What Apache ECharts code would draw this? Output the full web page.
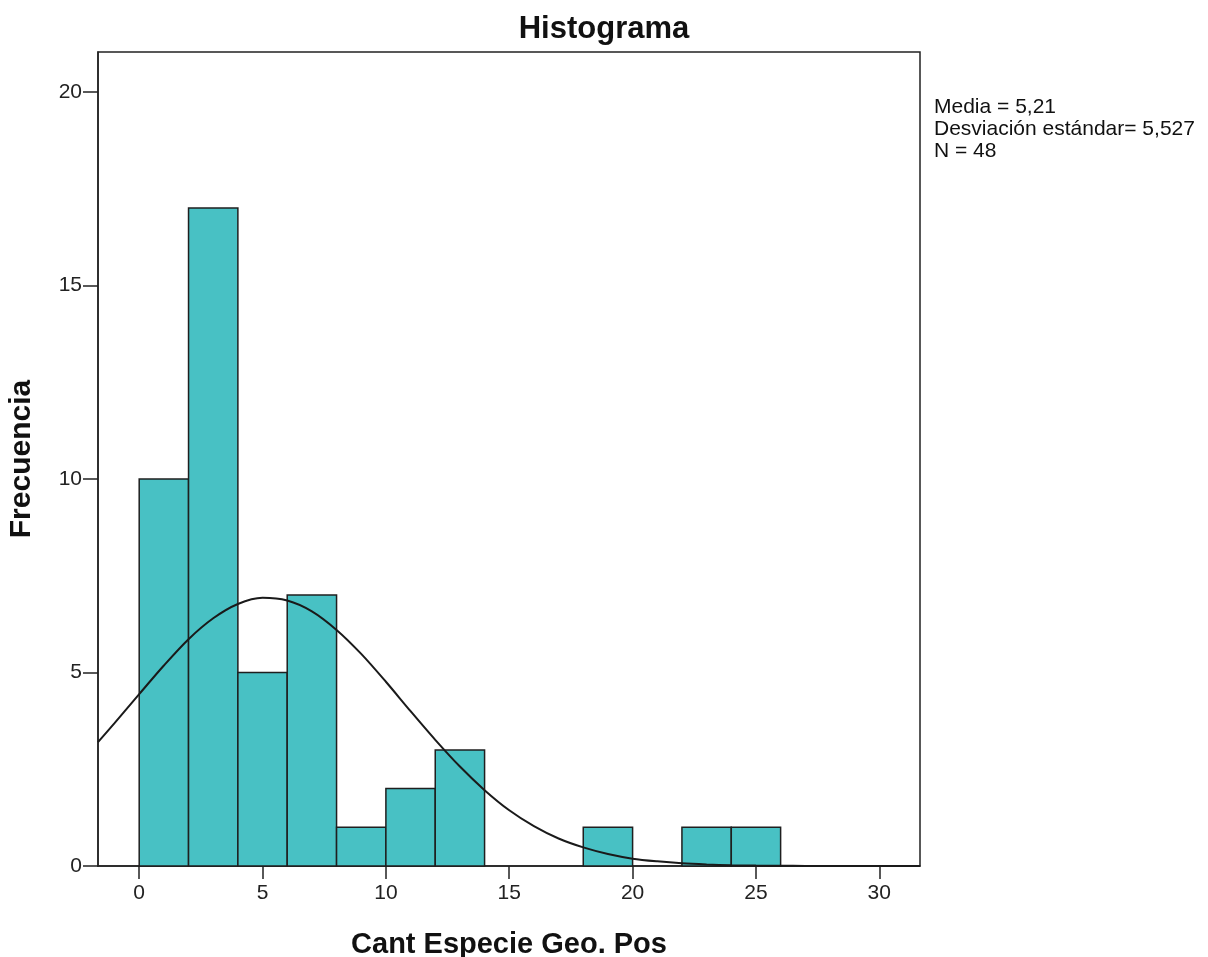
<!DOCTYPE html>
<html>
<head>
    <meta charset="utf-8" />
    <title>Histograma</title>
    <script src="https://cdn.jsdelivr.net/npm/echarts@6/dist/echarts.min.js"></script>
    <style>
        html, body { margin: 0; padding: 0; background: #fff; }
        #main { width: 1208px; height: 957px; }
    </style>
</head>
<body>
    <div id="main"></div>
    <script type="text/javascript">
        // histogram bins (width 2) and counts
        var binStart = [0, 2, 4, 6, 8, 10, 12, 18, 22, 24];
        var binEnd = [2, 4, 6, 8, 10, 12, 14, 20, 24, 26];
        var counts = [10, 17, 5, 7, 1, 2, 3, 1, 1, 1];

        // normal curve
        var curveX = [-1.67, -1, 0, 1, 2, 3, 4, 5, 6, 7, 8, 9, 10, 11, 12, 13, 14, 15, 16, 17, 18, 19, 20, 21, 22, 23, 24, 25, 26, 27, 28, 30, 31.65];
        var curveY = [3.2, 3.69, 4.44, 5.18, 5.86, 6.4, 6.77, 6.93, 6.86, 6.58, 6.1, 5.48, 4.76, 4.0, 3.26, 2.57, 1.96, 1.44, 1.03, 0.71, 0.48, 0.31, 0.19, 0.12, 0.07, 0.04, 0.02, 0.01, 0.005, 0.003, 0.001, 0, 0];

        var xTicks = [0, 5, 10, 15, 20, 25, 30];
        var yTicks = [0, 5, 10, 15, 20];

        var statsText = ['Media = 5,21', 'Desviación estándar= 5,527', 'N = 48'];

        var bars = [];
        for (var i = 0; i < counts.length; i++) bars.push([binStart[i], binEnd[i], counts[i]]);
        var curve = [];
        for (var j = 0; j < curveX.length; j++) curve.push([curveX[j], curveY[j]]);

        var font = '"Liberation Sans", Arial, sans-serif';
        var myChart = echarts.init(document.getElementById('main'));
        var option = {
            animation: false,
            title: {
                text: 'Histograma', left: 'center', top: 9,
                textStyle: { fontFamily: font, fontSize: 31, fontWeight: 'bold', color: '#111' }
            },
            grid: {
                left: 98, right: 288, top: 52, bottom: 91,
                outerBoundsMode: 'none', containLabel: false,
                show: true, borderColor: '#222', borderWidth: 1.5
            },
            graphic: [{
                type: 'text', left: 934, top: 96,
                style: { text: statsText.join('\n'), font: '21px ' + font, fill: '#111', lineHeight: 22 }
            }],
            xAxis: {
                type: 'value', min: -1.67, max: 31.65,
                name: 'Cant Especie Geo. Pos', nameLocation: 'middle', nameGap: 64,
                nameTextStyle: { fontFamily: font, fontSize: 29, fontWeight: 'bold', color: '#111' },
                splitLine: { show: false },
                axisLine: { onZero: false, lineStyle: { color: '#222', width: 1.5 } },
                axisTick: { customValues: xTicks, length: 13, lineStyle: { color: '#222', width: 1.5 } },
                axisLabel: { customValues: xTicks, margin: 17, fontFamily: font, fontSize: 21, color: '#222' }
            },
            yAxis: {
                type: 'value', min: 0, max: 21.03,
                name: 'Frecuencia', nameLocation: 'middle', nameGap: 61,
                nameTextStyle: { fontFamily: font, fontSize: 30, fontWeight: 'bold', color: '#111' },
                splitLine: { show: false },
                axisLine: { show: true, onZero: false, lineStyle: { color: '#222', width: 1.5 } },
                axisTick: { show: true, customValues: yTicks, length: 15, lineStyle: { color: '#222', width: 1.5 } },
                axisLabel: { customValues: yTicks, margin: 16, fontFamily: font, fontSize: 21, color: '#222' }
            },
            series: [
                {
                    type: 'custom',
                    data: bars,
                    encode: { x: [0, 1], y: 2 },
                    renderItem: function (params, api) {
                        var p0 = api.coord([api.value(0), 0]);
                        var p1 = api.coord([api.value(1), api.value(2)]);
                        return {
                            type: 'rect',
                            shape: { x: p0[0], y: p1[1], width: p1[0] - p0[0], height: p0[1] - p1[1] },
                            style: { fill: '#48c1c4', stroke: '#1f1f1f', lineWidth: 1.5 }
                        };
                    }
                },
                {
                    type: 'line',
                    data: curve,
                    smooth: 0.3,
                    symbol: 'none',
                    lineStyle: { color: '#1a1a1a', width: 2 },
                    z: 5
                }
            ]
        };
        myChart.setOption(option);
    </script>
</body>
</html>
